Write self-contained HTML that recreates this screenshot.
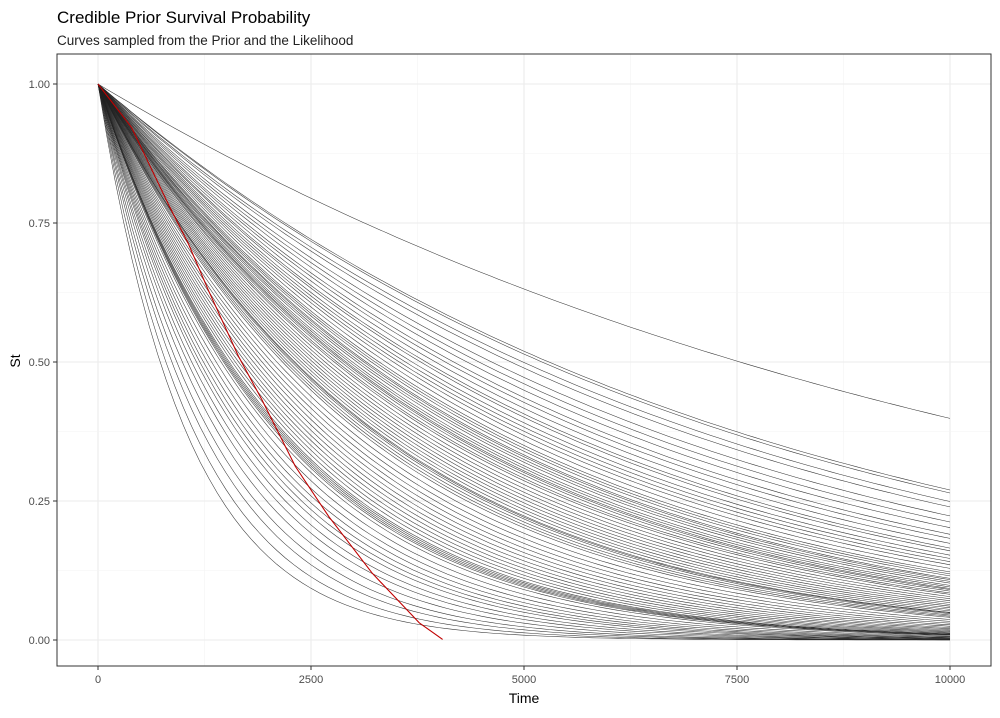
<!DOCTYPE html>
<html><head><meta charset="utf-8"><style>
body{margin:0;background:#fff;font-family:"Liberation Sans",sans-serif}
</style></head><body>
<svg width="1000" height="713" xmlns="http://www.w3.org/2000/svg" font-family="Liberation Sans, sans-serif">
<text x="57" y="23" font-size="17" fill="#000">Credible Prior Survival Probability</text>
<text x="57" y="45" font-size="13.5" fill="#222">Curves sampled from the Prior and the Likelihood</text>
<g id="grid"></g>
<g id="curves"></g>
<g id="red"></g>
<rect x="57" y="54" width="934" height="612" fill="none" stroke="#333" stroke-width="1"/>
<g id="axes"></g>
<text x="524" y="703" font-size="14" text-anchor="middle">Time</text>
<text x="20" y="361" font-size="14" text-anchor="middle" transform="rotate(-90 20 361)">St</text>
</svg>
<script>
const xTicks=[0,2500,5000,7500,10000];
const yTicks=[0,0.25,0.5,0.75,1];
const yTickLabels=["0.00","0.25","0.50","0.75","1.00"];
const rates=[0.092,0.131,0.133,0.139,0.143,0.150,0.155,0.160,0.166,0.170,0.175,0.180,0.183,0.188,0.192,0.196,0.200,0.205,0.210,0.213,0.216,0.220,0.222,0.225,0.228,0.232,0.235,0.238,0.240,0.243,0.247,0.250,0.255,0.260,0.265,0.270,0.275,0.280,0.285,0.290,0.295,0.300,0.302,0.305,0.310,0.315,0.320,0.330,0.340,0.350,0.360,0.370,0.380,0.390,0.400,0.410,0.420,0.430,0.440,0.450,0.455,0.460,0.465,0.470,0.480,0.500,0.520,0.540,0.560,0.580,0.600,0.630,0.660,0.700,0.750,0.800,0.870,0.950];
const redT=[0,393,825,1060,1296,1649,1924,2317,2709,3220,3770,4045];
const redS=[1,0.922,0.784,0.713,0.629,0.51,0.432,0.312,0.222,0.12,0.031,0.001];
const NS="http://www.w3.org/2000/svg";
const X=t=>98+t*(852/10000), Y=s=>640-s*556;
function mk(tag,attrs,parent){const e=document.createElementNS(NS,tag);for(const k in attrs)e.setAttribute(k,attrs[k]);parent.appendChild(e);return e;}
const grid=document.getElementById('grid'),axes=document.getElementById('axes');
for(let i=0;i<xTicks.length;i++){
 const x=X(xTicks[i]);
 let g=mk('line',{x1:x,x2:x,y1:54,y2:666,stroke:'#ebebeb','stroke-width':1.1},grid);
 
 if(i<xTicks.length-1){const xm=X((xTicks[i]+xTicks[i+1])/2);
  let m=mk('line',{x1:xm,x2:xm,y1:54,y2:666,stroke:'#f3f3f3','stroke-width':0.6},grid);
  }
 mk('line',{x1:x,x2:x,y1:666,y2:670,stroke:'#333'},axes);
 let t=mk('text',{x:x,y:683,'font-size':11,'text-anchor':'middle',fill:'#4d4d4d'},axes);
 t.textContent=xTicks[i];
 
}
for(let i=0;i<yTicks.length;i++){
 const y=Y(yTicks[i]);
 let g=mk('line',{x1:57,x2:991,y1:y,y2:y,stroke:'#ebebeb','stroke-width':1.1},grid);
 
 if(i<yTicks.length-1){const ym=Y((yTicks[i]+yTicks[i+1])/2);
  let m=mk('line',{x1:57,x2:991,y1:ym,y2:ym,stroke:'#f3f3f3','stroke-width':0.6},grid);
  }
 mk('line',{x1:53,x2:57,y1:y,y2:y,stroke:'#333'},axes);
 let t=mk('text',{x:50,y:y+4,'font-size':11,'text-anchor':'end',fill:'#4d4d4d'},axes);
 t.textContent=yTickLabels[i];
 
}
const cg=document.getElementById('curves');
rates.forEach(r=>{
 let d='';
 for(let t=0;t<=10000;t+=100){d+=(t?'L':'M')+X(t).toFixed(1)+','+Y(Math.exp(-r*t/1000)).toFixed(1);}
 let p=mk('path',{d:d,fill:'none',stroke:'#222','stroke-width':0.55,'stroke-opacity':0.9},cg);
 
});
let rd='';redT.forEach((t,i)=>{rd+=(i?'L':'M')+X(t).toFixed(1)+','+Y(redS[i]).toFixed(1);});
let rp=mk('path',{d:rd,fill:'none',stroke:'#c00000','stroke-width':1.1,'stroke-linejoin':'round'},document.getElementById('red'));

</script>
</body></html>
